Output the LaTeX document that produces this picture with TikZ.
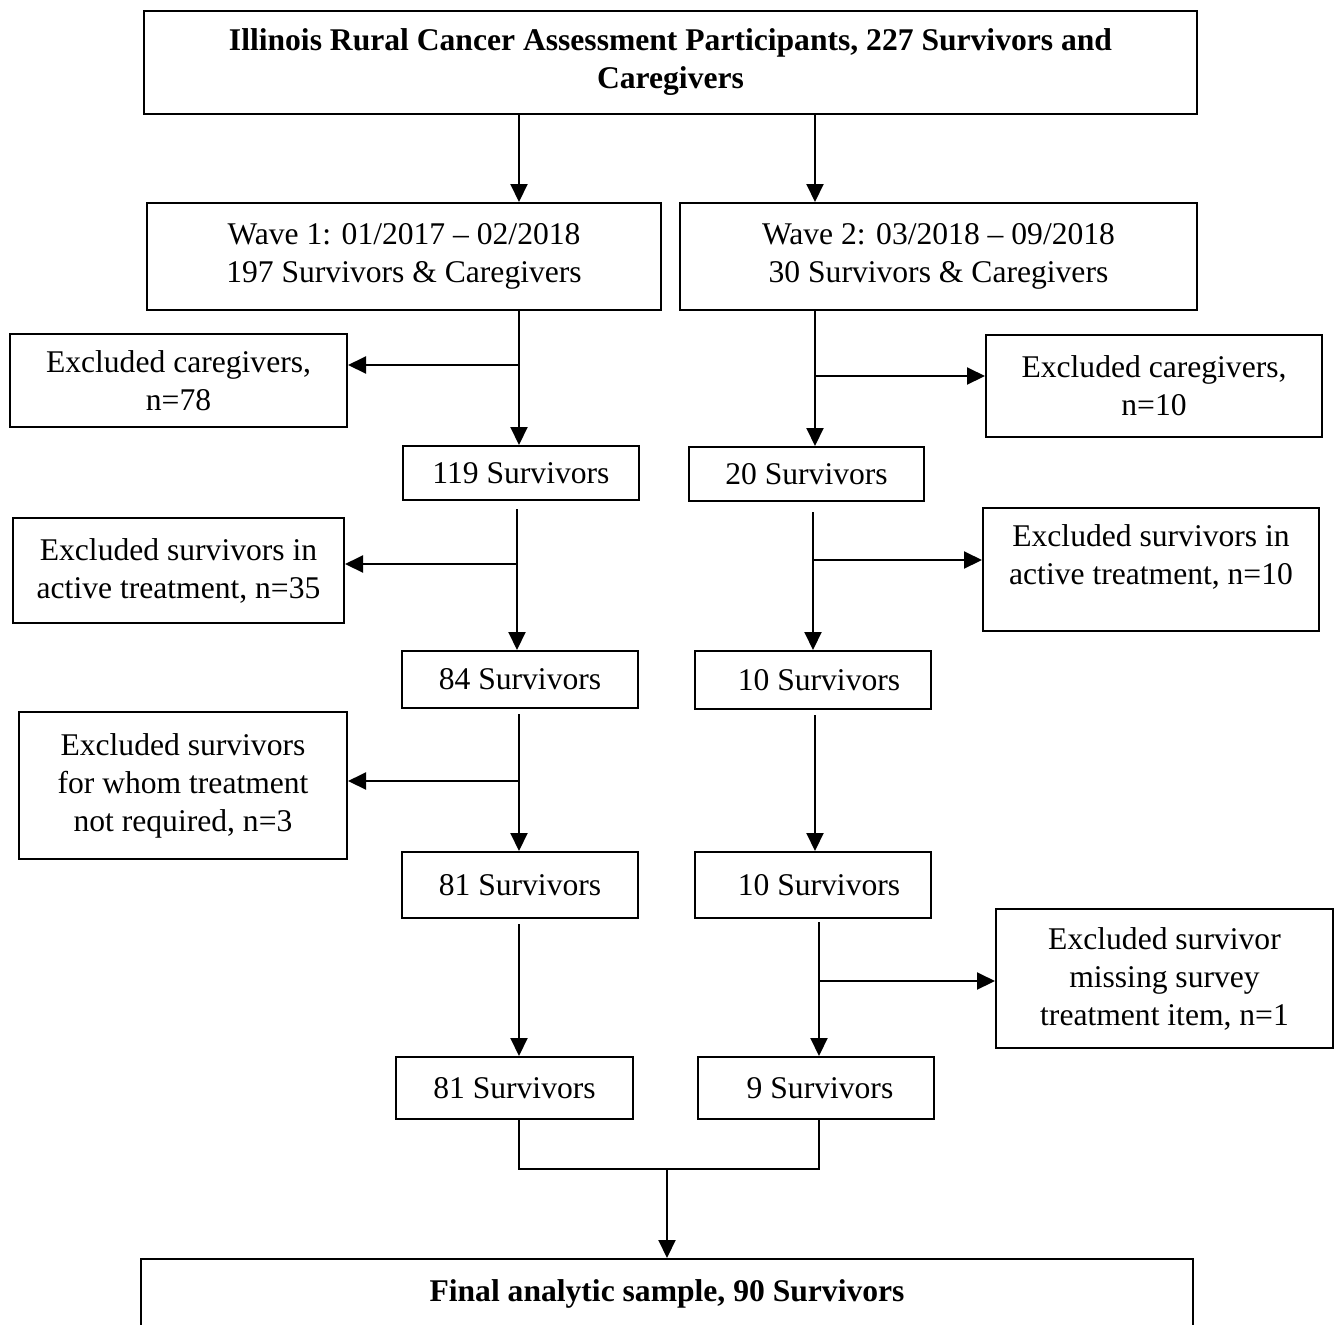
\documentclass[tikz,border=0pt]{standalone}
\usepackage{fontspec}
\setmainfont{Liberation Serif}
\usetikzlibrary{arrows.meta}
\begin{document}
\begin{tikzpicture}[x=0.5pt,y=-0.5pt,
  every node/.style={font=\fontsize{15.8pt}{19pt}\selectfont},
  bx/.style={draw,line width=1pt,align=center,inner sep=0pt},
  arr/.style={line width=1pt,-{Triangle[length=9pt,width=8.5pt]}},
  ln/.style={line width=1pt}]
\useasboundingbox (0,0) rectangle (1339,1324);
\coordinate (colL) at (519,0);
\coordinate (colR) at (815,0);
% nodes
\node[bx,minimum width=526.5pt,minimum height=51.5pt,font=\fontsize{15.8pt}{19pt}\selectfont\bfseries] (top) at (670.5,62.5) {Illinois Rural Cancer Assessment Participants, 227 Survivors and\\Caregivers};
\node[bx,minimum width=257pt,minimum height=53.5pt] (w1) at (404,256.5) {Wave 1: 01/2017 -- 02/2018\\197 Survivors \& Caregivers};
\node[bx,minimum width=258.5pt,minimum height=53.5pt] (w2) at (938.5,256.5) {Wave 2: 03/2018 -- 09/2018\\30 Survivors \& Caregivers};
\node[bx,minimum width=168.5pt,minimum height=46.5pt] (exA) at (178.5,380.5) {Excluded caregivers,\\n=78};
\node[bx,minimum width=168pt,minimum height=51pt] (exB) at (1154,386) {Excluded caregivers,\\n=10};
\node[bx,minimum width=118pt,minimum height=27pt] (s119) at (521,473) {119 Survivors};
\node[bx,minimum width=117.5pt,minimum height=27pt] (s20) at (806.5,474) {20 Survivors};
\node[bx,minimum width=165.5pt,minimum height=52.5pt] (exC) at (178.5,570.5) {Excluded survivors in\\active treatment, n=35};
\node[bx,minimum width=168pt,minimum height=61.5pt] (exD) at (1151,569.5) {};
\node (exDt) at (1151,557.5) {\begin{tabular}{@{}c@{}}Excluded survivors in\\active treatment, n=10\end{tabular}};
\node[bx,minimum width=118pt,minimum height=28.5pt] (s84) at (520,679.5) {84 Survivors};
\node[bx,minimum width=118pt,minimum height=29pt] (s10a) at (813,680) {\hspace*{6pt}10 Survivors};
\node[bx,minimum width=164pt,minimum height=73.5pt] (exE) at (183,785.5) {Excluded survivors\\for whom treatment\\not required, n=3};
\node[bx,minimum width=118pt,minimum height=33pt] (s81a) at (520,885) {81 Survivors};
\node[bx,minimum width=118pt,minimum height=33pt] (s10b) at (813,885) {\hspace*{6pt}10 Survivors};
\node[bx,minimum width=168.5pt,minimum height=69.5pt] (exF) at (1164.5,978.5) {Excluded survivor\\missing survey\\treatment item, n=1};
\node[bx,minimum width=118.5pt,minimum height=31pt] (s81b) at (514.5,1088) {81 Survivors};
\node[bx,minimum width=118pt,minimum height=31pt] (s9) at (816,1088) {\hspace*{4pt}9 Survivors};
\node[bx,minimum width=526pt,minimum height=35pt,font=\fontsize{15.8pt}{19pt}\selectfont\bfseries] (final) at (667,1294) {Final analytic sample, 90 Survivors};
% branch points
\coordinate (b1) at (519,365);
\coordinate (b2) at (815,376);
\coordinate (b3) at (517,564);
\coordinate (b4) at (813,560);
\coordinate (b5) at (519,781);
\coordinate (b6) at (819,981);
\coordinate (m) at (667,1169);
% connectors
\draw[arr] (top.south -| colL) -- (w1.north -| colL);
\draw[arr] (top.south -| colR) -- (w2.north -| colR);
\draw[arr] (w1.south -| colL) -- (s119.north -| colL);
\draw[arr] (b1) -- (b1 -| exA.east);
\draw[arr] (w2.south -| colR) -- (s20.north -| colR);
\draw[arr] (b2) -- (b2 -| exB.west);
\draw[arr,shorten <=4pt] (s119.south -| b3) -- (s84.north -| b3);
\draw[arr] (b3) -- (b3 -| exC.east);
\draw[arr,shorten <=5pt] (s20.south -| b4) -- (s10a.north -| b4);
\draw[arr] (b4) -- (b4 -| exD.west);
\draw[arr,shorten <=2.5pt] (s84.south -| colL) -- (s81a.north -| colL);
\draw[arr] (b5) -- (b5 -| exE.east);
\draw[arr,shorten <=2.5pt] (s10a.south -| colR) -- (s10b.north -| colR);
\draw[arr,shorten <=2.5pt] (s81a.south -| colL) -- (s81b.north -| colL);
\draw[arr,shorten <=1.5pt] (s10b.south -| b6) -- (s9.north -| b6);
\draw[arr] (b6) -- (b6 -| exF.west);
\draw[ln] (s81b.south -| colL) |- (m) -| (s9.south -| b6);
\draw[arr] (m) -- (final.north -| m);
\end{tikzpicture}
\end{document}
